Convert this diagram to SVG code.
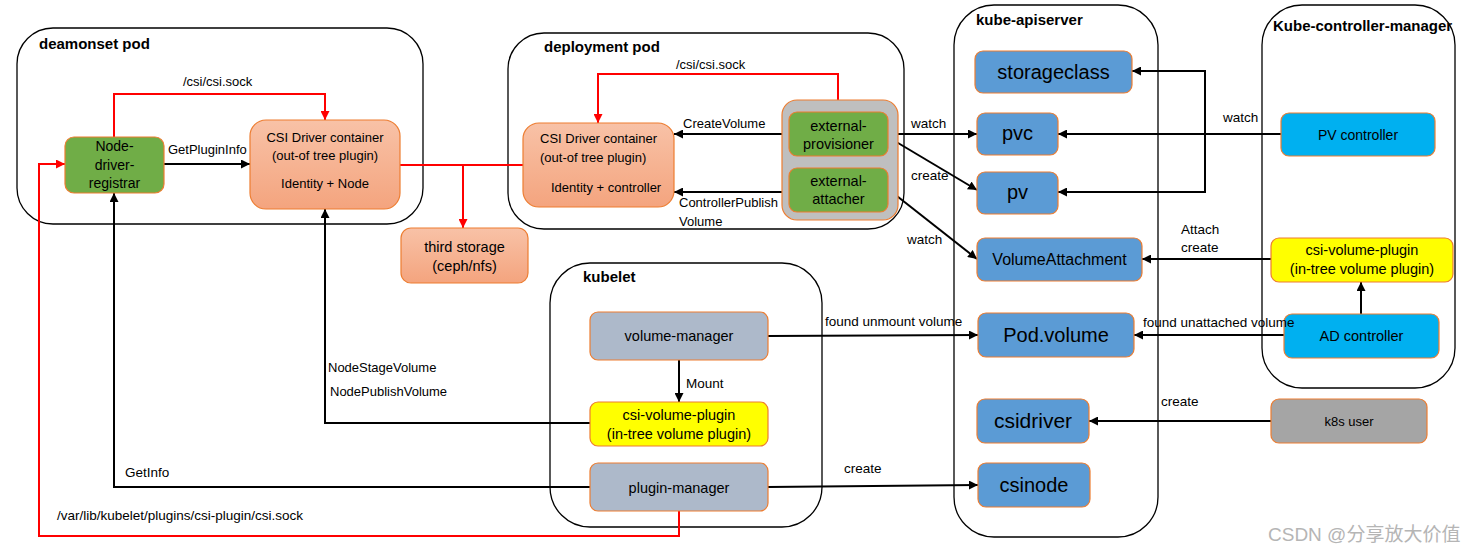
<svg xmlns="http://www.w3.org/2000/svg" width="1475" height="555" viewBox="0 0 1475 555">
<style>
text{font-family:"Liberation Sans",Arial,sans-serif;fill:#000}
.ttl{font-size:15px;font-weight:bold}
.lb{font-size:13px}
.lb2{font-size:13.5px}
.n14{font-size:14px}
.n145{font-size:14.5px}
.big{font-size:20px}
.mid{text-anchor:middle}
.box{fill:none;stroke:#000;stroke-width:1.3}
.nd{stroke:#ED7D31;stroke-width:1.2}
.blue{fill:#5B9BD5}
.cyan{fill:#00B0F0}
.yel{fill:#FFFF00}
.slate{fill:#ADB9CA}
.grn{fill:#70AD47}
.gry{fill:#A5A5A5}
.org{fill:url(#og)}
.k{fill:none;stroke:#000;stroke-width:2}
.r{fill:none;stroke:#FF0000;stroke-width:2}
</style>
<defs>
<linearGradient id="og" x1="0" y1="0" x2="0" y2="1">
<stop offset="0" stop-color="#F8C2A7"/>
<stop offset="1" stop-color="#F4A47E"/>
</linearGradient>
<marker id="ak" viewBox="0 0 10 10" refX="10" refY="5" markerWidth="9" markerHeight="9" markerUnits="userSpaceOnUse" orient="auto">
<path d="M0,0 L10,5 L0,10 z" fill="#000"/>
</marker>
<marker id="ar" viewBox="0 0 10 10" refX="10" refY="5" markerWidth="9" markerHeight="9" markerUnits="userSpaceOnUse" orient="auto">
<path d="M0,0 L10,5 L0,10 z" fill="#FF0000"/>
</marker>
</defs>
<rect width="1475" height="555" fill="#fff"/>

<g id="containers">
<g id="deamonset-pod"><rect class="box" x="17" y="28" width="406" height="196" rx="36"/><text class="ttl" x="39" y="49">deamonset pod</text></g>
<g id="deployment-pod"><rect class="box" x="508" y="33" width="396" height="196" rx="36"/><text class="ttl" x="544" y="52">deployment pod</text></g>
<g id="kube-apiserver"><rect class="box" x="954" y="5" width="204" height="532" rx="40"/><text class="ttl" x="976" y="25">kube-apiserver</text></g>
<g id="kube-controller-manager"><rect class="box" x="1262" y="5" width="193" height="383" rx="40"/><text class="ttl" x="1273" y="31">Kube-controller-manager</text></g>
<g id="kubelet"><rect class="box" x="550" y="263" width="272" height="264" rx="40"/><text class="ttl" x="583" y="282">kubelet</text></g>
</g>

<g id="connectors">
<path class="r" d="M114,137 V94 H325 V120" marker-end="url(#ar)"/>
<text class="lb" x="183" y="85.5">/csi/csi.sock</text>
<path class="k" d="M164,164 H250" marker-end="url(#ak)"/>
<text class="lb" x="168" y="153.5">GetPluginInfo</text>
<path class="r" d="M400,165 H523"/>
<path class="r" d="M463,165 V228" marker-end="url(#ar)"/>
<path class="r" d="M838,100 V74 H598 V123" marker-end="url(#ar)"/>
<text class="lb" x="676" y="68.5">/csi/csi.sock</text>
<path class="k" d="M789,134 H674" marker-end="url(#ak)"/>
<text class="lb" x="683" y="127.5">CreateVolume</text>
<path class="k" d="M789,192 H674" marker-end="url(#ak)"/>
<text class="lb" x="679" y="206.5">ControllerPublish</text>
<text class="lb" x="679" y="225.5">Volume</text>
<path class="k" d="M888,134 H977" marker-end="url(#ak)"/>
<text class="lb2" x="911" y="127.5">watch</text>
<path class="k" d="M888,137 L977,190" marker-end="url(#ak)"/>
<text class="lb2" x="911" y="179.5">create</text>
<path class="k" d="M888,189 L977,259" marker-end="url(#ak)"/>
<text class="lb2" x="907" y="243.5">watch</text>
<path class="k" d="M1281,134 H1058" marker-end="url(#ak)"/>
<path class="k" d="M1205,134 V71 H1132" marker-end="url(#ak)"/>
<path class="k" d="M1205,134 V192 H1058" marker-end="url(#ak)"/>
<text class="lb2" x="1223" y="121.5">watch</text>
<path class="k" d="M1271,259 H1142" marker-end="url(#ak)"/>
<text class="lb2" x="1181" y="233.5">Attach</text>
<text class="lb2" x="1181" y="251.5">create</text>
<path class="k" d="M1361,314 V282" marker-end="url(#ak)"/>
<path class="k" d="M1284,335 H1134" marker-end="url(#ak)"/>
<path class="k" d="M1271,421 H1089" marker-end="url(#ak)"/>
<text class="lb2" x="1161" y="405.5">create</text>
<path class="k" d="M768,336 L978,335" marker-end="url(#ak)"/>
<text class="lb2" x="825" y="325.5">found unmount volume</text>
<path class="k" d="M768,487 L978,485" marker-end="url(#ak)"/>
<text class="lb2" x="844" y="472.5">create</text>
<path class="k" d="M679,360 V402" marker-end="url(#ak)"/>
<text class="lb2" x="686" y="387.5">Mount</text>
<path class="k" d="M590,423 H325 V209" marker-end="url(#ak)"/>
<text class="lb" x="328" y="371.5">NodeStageVolume</text>
<text class="lb" x="330" y="395.5">NodePublishVolume</text>
<path class="k" d="M590,487 H114 V193" marker-end="url(#ak)"/>
<text class="lb2" x="125" y="476.5">GetInfo</text>
<path class="r" d="M679,511 V536 H39 V164 H65" marker-end="url(#ar)"/>
<text class="lb2" x="57" y="519.5">/var/lib/kubelet/plugins/csi-plugin/csi.sock</text>
</g>

<g id="node-driver-registrar"><rect class="nd grn" x="65" y="137" width="99" height="56" rx="9"/>
<text class="n14 mid" x="114.5" y="151">Node-</text><text class="n14 mid" x="114.5" y="170">driver-</text><text class="n14 mid" x="114.5" y="188">registrar</text></g>
<g id="csi-driver-ds"><rect class="nd org" x="250" y="120" width="150" height="89" rx="16"/>
<text class="lb mid" x="325" y="141.5">CSI Driver container</text><text class="lb mid" x="325" y="159.5">(out-of tree plugin)</text><text class="lb mid" x="325" y="187.5">Identity + Node</text></g>
<g id="third-storage"><rect class="nd org" x="401" y="228" width="127" height="55" rx="10"/>
<text class="n145 mid" x="464.5" y="252">third storage</text><text class="n145 mid" x="464.5" y="271">(ceph/nfs)</text></g>
<g id="csi-driver-deploy"><rect class="nd org" x="523" y="123" width="151" height="84" rx="16"/>
<text class="lb" x="540" y="142.5">CSI Driver container</text><text class="lb" x="540" y="161.5">(out-of tree plugin)</text><text class="lb" x="551" y="191.5">Identity + controller</text></g>
<g id="sidecars"><rect class="nd" fill="#BFBFBF" x="782" y="100" width="116" height="120" rx="15"/></g>
<g id="external-provisioner"><rect class="nd grn" x="789" y="112" width="99" height="44" rx="8"/>
<text class="n145 mid" x="838.5" y="131">external-</text><text class="n145 mid" x="838.5" y="149">provisioner</text></g>
<g id="external-attacher"><rect class="nd grn" x="789" y="168" width="99" height="44" rx="8"/>
<text class="n145 mid" x="838.5" y="186">external-</text><text class="n145 mid" x="838.5" y="204">attacher</text></g>

<g id="storageclass"><rect class="nd blue" x="975" y="51" width="157" height="42" rx="8"/><text class="big mid" x="1053.5" y="79">storageclass</text></g>
<g id="pvc"><rect class="nd blue" x="977" y="113" width="81" height="42" rx="8"/><text class="big mid" x="1017.5" y="140">pvc</text></g>
<g id="pv"><rect class="nd blue" x="977" y="172" width="81" height="42" rx="8"/><text class="big mid" x="1017.5" y="199">pv</text></g>
<g id="volumeattachment"><rect class="nd blue" x="977" y="238" width="165" height="43" rx="8"/><text class="mid" style="font-size:16px" x="1059.5" y="265">VolumeAttachment</text></g>
<g id="pod-volume"><rect class="nd blue" x="978" y="313" width="156" height="44" rx="8"/><text class="big mid" x="1056" y="341.5">Pod.volume</text></g>
<g id="csidriver"><rect class="nd blue" x="977" y="399" width="112" height="44" rx="8"/><text class="mid" style="font-size:21px" x="1033" y="428">csidriver</text></g>
<g id="csinode"><rect class="nd blue" x="978" y="463" width="112" height="44" rx="8"/><text class="big mid" x="1034" y="492">csinode</text></g>

<g id="pv-controller"><rect class="nd cyan" x="1281" y="113" width="154" height="43" rx="8"/><text class="n14 mid" x="1358" y="139.5">PV controller</text></g>
<g id="csi-volume-plugin-kcm"><rect class="nd yel" x="1271" y="238" width="182" height="44" rx="8"/>
<text class="n145 mid" x="1362" y="255">csi-volume-plugin</text><text class="n145 mid" x="1362" y="274">(in-tree volume plugin)</text></g>
<g id="ad-controller"><rect class="nd cyan" x="1284" y="314" width="155" height="44" rx="8"/><text class="n145 mid" x="1361.5" y="341">AD controller</text></g>
<g id="k8s-user"><rect class="nd gry" x="1271" y="399" width="156" height="44" rx="8"/><text class="lb mid" x="1349" y="425.5">k8s user</text></g>

<g id="volume-manager"><rect class="nd slate" x="590" y="312" width="178" height="48" rx="8"/><text class="n145 mid" x="679" y="341">volume-manager</text></g>
<g id="csi-volume-plugin-kubelet"><rect class="nd yel" x="590" y="402" width="178" height="44" rx="8"/>
<text class="n145 mid" x="679" y="420">csi-volume-plugin</text><text class="n145 mid" x="679" y="439">(in-tree volume plugin)</text></g>
<g id="plugin-manager"><rect class="nd slate" x="590" y="463" width="178" height="48" rx="8"/><text class="n145 mid" x="679" y="493">plugin-manager</text></g>

<g id="connector-labels"><text class="lb2" x="1143" y="326.5">found unattached volume</text></g>

<text x="1268" y="541" style="font-size:19px;fill:#b5b5b5;font-family:'Liberation Sans','Noto Sans CJK SC',sans-serif">CSDN @分享放大价值</text>
</svg>
